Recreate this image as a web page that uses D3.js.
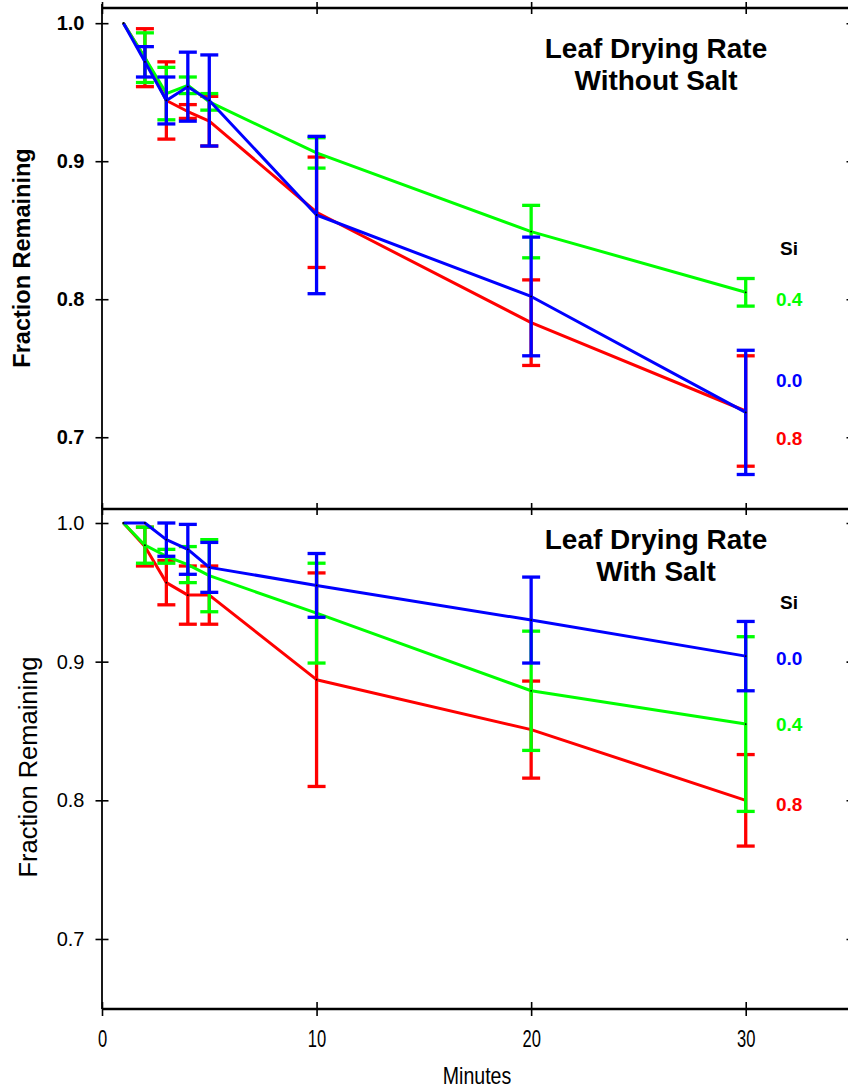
<!DOCTYPE html>
<html>
<head>
<meta charset="utf-8">
<script src="https://cdn.jsdelivr.net/npm/d3@7"></script>
<style>
  html, body { margin: 0; padding: 0; background: #ffffff; }
  svg { display: block; font-family: "Liberation Sans", Arial, sans-serif; }
</style>
</head>
<body>
<svg id="chart" width="848" height="1088"></svg>
<script>
// ---------------- data ----------------
const minutes = [1, 2, 3, 4, 5, 10, 20, 30];
const xTicks = [0, 10, 20, 30];
const yTicks = [0.7, 0.8, 0.9, 1.0];
const siLevels = ["0.0", "0.4", "0.8"];
const seriesColors = ["#0000ff", "#00ff00", "#ff0000"];

// Panel 1: without salt
const noSaltSi00 = [1.0, 0.972, 0.944, 0.954, 0.944, 0.861, 0.802, 0.718];
const noSaltSi00Err = [0, 0.011, 0.017, 0.025, 0.033, 0.057, 0.043, 0.045];
const noSaltSi04 = [1.0, 0.975, 0.949, 0.955, 0.943, 0.906, 0.849, 0.805];
const noSaltSi04Err = [0, 0.018, 0.019, 0.006, 0.006, 0.011, 0.019, 0.010];
const noSaltSi08 = [1.0, 0.975, 0.944, 0.936, 0.929, 0.863, 0.783, 0.719];
const noSaltSi08Err = [0, 0.021, 0.028, 0.005, 0.018, 0.040, 0.031, 0.040];

// Panel 2: with salt
const saltSi00 = [1.0, 1.0, 0.988, 0.981, 0.968, 0.955, 0.930, 0.904];
const saltSi00Err = [0, 0.0, 0.012, 0.018, 0.018, 0.023, 0.031, 0.025];
const saltSi04 = [1.0, 0.984, 0.976, 0.970, 0.962, 0.935, 0.879, 0.855];
const saltSi04Err = [0, 0.013, 0.005, 0.013, 0.026, 0.036, 0.043, 0.063];
const saltSi08 = [1.0, 0.983, 0.957, 0.948, 0.948, 0.887, 0.851, 0.800];
const saltSi08Err = [0, 0.014, 0.016, 0.021, 0.021, 0.077, 0.035, 0.033];

const panelTitles = [["Leaf Drying Rate", "Without Salt"], ["Leaf Drying Rate", "With Salt"]];

// ---------------- layout ----------------
const svg = d3.select("#chart");
const left = 102, right = 853;
const x = d3.scaleLinear().domain([0, 35]).range([left, right]);

const panels = [
  {
    top: 8, bottom: 509,
    y: d3.scaleLinear().domain([0.648, 1.011]).range([509, 8]),
    series: [
      { color: "#ff0000", v: noSaltSi08, e: noSaltSi08Err },
      { color: "#00ff00", v: noSaltSi04, e: noSaltSi04Err },
      { color: "#0000ff", v: noSaltSi00, e: noSaltSi00Err }
    ],
    title: panelTitles[0], titleY: 58,
    boldTicks: true, tickSize: 20,
    ylabelBold: true, ylabelSize: 23.5, ylabelX: 22, ylabelY: 258,
    legend: { si: 248, labels: { "0.4": 299, "0.0": 380, "0.8": 438 } }
  },
  {
    top: 509, bottom: 1009,
    y: d3.scaleLinear().domain([0.6495, 1.0101]).range([1009, 509]),
    series: [
      { color: "#ff0000", v: saltSi08, e: saltSi08Err },
      { color: "#00ff00", v: saltSi04, e: saltSi04Err },
      { color: "#0000ff", v: saltSi00, e: saltSi00Err }
    ],
    title: panelTitles[1], titleY: 549,
    boldTicks: false, tickSize: 20,
    ylabelBold: false, ylabelSize: 25.5, ylabelX: 28, ylabelY: 767,
    legend: { si: 602, labels: { "0.0": 658, "0.4": 724, "0.8": 804 } }
  }
];

const capHalf = 9;

panels.forEach((p) => {
  const g = svg.append("g");
  const y = p.y;

  p.series.forEach(s => {
    const pts = minutes.map((m, i) => ({ m, v: s.v[i], e: s.e[i] }));
    const sg = g.append("g");
    sg.append("path")
      .datum(pts)
      .attr("fill", "none")
      .attr("stroke", s.color)
      .attr("stroke-width", 3)
      .attr("stroke-linejoin", "round")
      .attr("d", d3.line().x(d => x(d.m)).y(d => y(d.v)));
    const eb = sg.selectAll("g.eb").data(pts.filter(d => d.e > 0)).enter().append("g");
    eb.append("line")
      .attr("x1", d => x(d.m)).attr("x2", d => x(d.m))
      .attr("y1", d => y(d.v + d.e)).attr("y2", d => y(d.v - d.e))
      .attr("stroke", s.color).attr("stroke-width", 3.3);
    eb.append("line")
      .attr("x1", d => x(d.m) - capHalf).attr("x2", d => x(d.m) + capHalf)
      .attr("y1", d => y(d.v + d.e)).attr("y2", d => y(d.v + d.e))
      .attr("stroke", s.color).attr("stroke-width", 3.3);
    eb.append("line")
      .attr("x1", d => x(d.m) - capHalf).attr("x2", d => x(d.m) + capHalf)
      .attr("y1", d => y(d.v - d.e)).attr("y2", d => y(d.v - d.e))
      .attr("stroke", s.color).attr("stroke-width", 3.3);
    sg.selectAll("circle").data(pts).enter().append("circle")
      .attr("cx", d => x(d.m)).attr("cy", d => y(d.v)).attr("r", 0.9)
      .attr("fill", "#000");
  });

  // left axis
  const ya = d3.axisLeft(y).tickValues(yTicks).tickFormat(d3.format(".1f"))
    .tickSizeInner(6.5).tickSizeOuter(0).tickPadding(11);
  const ag = g.append("g").attr("transform", `translate(${left},0)`).call(ya);
  ag.select(".domain").remove();
  ag.selectAll(".tick line").attr("x2", 6.5).attr("x1", -6.5).attr("stroke", "#000").attr("stroke-width", 1.6);
  ag.selectAll(".tick text")
    .attr("font-size", p.tickSize)
    .attr("font-weight", p.boldTicks ? "bold" : "normal")
    .attr("fill", "#000");
  g.append("line").attr("x1", left).attr("x2", left).attr("y1", p.top - 4).attr("y2", p.bottom)
    .attr("stroke", "#000").attr("stroke-width", 1.8);

  // right axis ticks
  const ra = d3.axisRight(y).tickValues(yTicks).tickFormat("").tickSizeOuter(0);
  const rg = g.append("g").attr("transform", `translate(${right},0)`).call(ra);
  rg.select(".domain").remove();
  rg.selectAll(".tick line").attr("x1", -6.5).attr("x2", 6.5).attr("stroke", "#000").attr("stroke-width", 1.6);

  // top frame with crossing ticks
  const ta = d3.axisTop(x).tickValues(xTicks.concat([35])).tickFormat("").tickSizeOuter(0);
  const tg = g.append("g").attr("transform", `translate(0,${p.top})`).call(ta);
  tg.select(".domain").remove();
  tg.selectAll(".tick line").attr("y1", -6).attr("y2", 6).attr("stroke", "#000").attr("stroke-width", 1.6);
  g.append("line").attr("x1", left).attr("x2", 848).attr("y1", p.top).attr("y2", p.top)
    .attr("stroke", "#000").attr("stroke-width", 2.4);

  // title
  const t = g.append("text").attr("text-anchor", "middle")
    .attr("font-size", 28).attr("font-weight", "bold").attr("fill", "#000");
  t.append("tspan").attr("x", 656).attr("y", p.titleY).text(p.title[0]);
  t.append("tspan").attr("x", 656).attr("y", p.titleY + 32).text(p.title[1]);

  // legend
  g.append("text").attr("x", 780).attr("y", p.legend.si + 7)
    .attr("font-size", 19).attr("font-weight", "bold").attr("fill", "#000").text("Si");
  siLevels.forEach((lv, i) => {
    g.append("text").attr("x", 776).attr("y", p.legend.labels[lv] + 7)
      .attr("font-size", 19).attr("font-weight", "bold").attr("fill", seriesColors[i]).text(lv);
  });

  // y label
  g.append("text")
    .attr("transform", `translate(${p.ylabelX},${p.ylabelY}) rotate(-90)`)
    .attr("text-anchor", "middle").attr("dominant-baseline", "central")
    .attr("font-size", p.ylabelSize)
    .attr("font-weight", p.ylabelBold ? "bold" : "normal")
    .attr("fill", "#000")
    .text("Fraction Remaining");
});

// bottom x axis
const xa = d3.axisBottom(x).tickValues(xTicks).tickFormat(d3.format("d")).tickSizeOuter(0).tickPadding(16);
const xg = svg.append("g").attr("transform", "translate(0,1009)").call(xa);
xg.select(".domain").remove();
xg.selectAll(".tick line").attr("y1", -7).attr("y2", 7).attr("stroke", "#000").attr("stroke-width", 1.6);
xg.selectAll(".tick text").attr("font-size", 23).attr("fill", "#000")
  .attr("transform", "scale(0.72,1)");
svg.append("line").attr("x1", left).attr("x2", 848).attr("y1", 1009).attr("y2", 1009)
  .attr("stroke", "#000").attr("stroke-width", 2.4);

svg.append("text").attr("transform", "translate(477,1084) scale(0.85,1)").attr("text-anchor", "middle")
  .attr("font-size", 23).attr("fill", "#000").text("Minutes");
</script>
</body>
</html>
